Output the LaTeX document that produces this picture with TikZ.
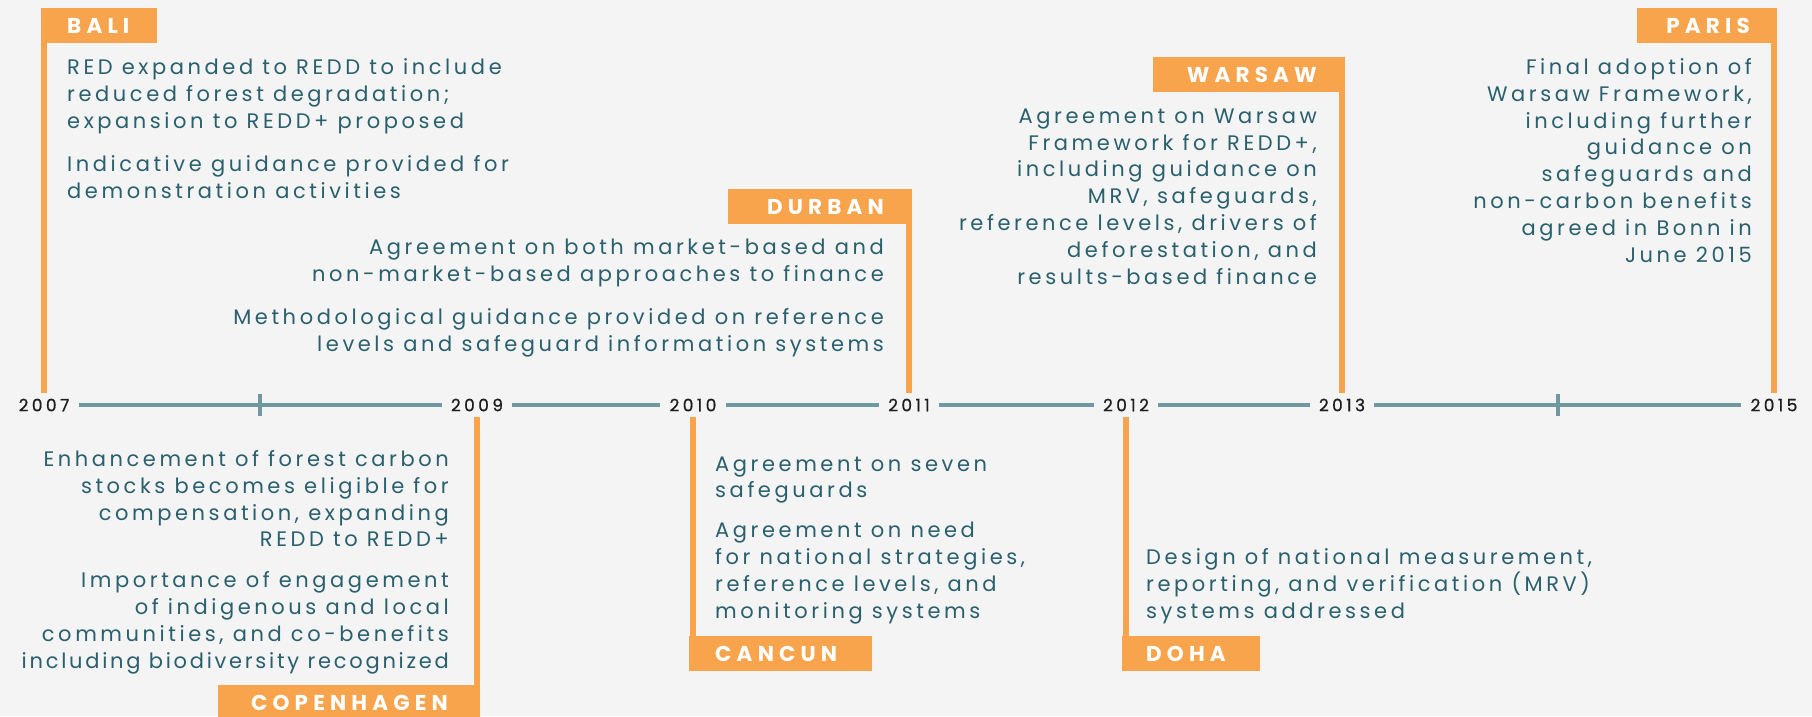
\documentclass[tikz,border=0pt]{standalone}
\usepackage{fontspec}
\newfontfamily\bodyfont[LetterSpace=17]{Poppins}
\newfontfamily\labelfont[LetterSpace=24]{Poppins}
\newfontfamily\yearfont[LetterSpace=20,FakeBold=0.8]{Poppins}
\definecolor{bgc}{RGB}{243,244,243}
\definecolor{org}{RGB}{247,164,76}
\definecolor{txtc}{RGB}{42,96,110}
\definecolor{axc}{RGB}{111,152,160}
\definecolor{yrc}{RGB}{30,30,30}
\begin{document}
\begin{tikzpicture}[x=1pt,y=-1pt,
  body/.style={font=\bodyfont\fontsize{21}{26.8}\selectfont, text=txtc, inner sep=0pt},
  yr/.style={font=\yearfont\fontsize{17}{17}\selectfont, text=yrc, inner xsep=9pt, inner ysep=6pt},
  tag/.style={fill=org, minimum height=35pt, inner sep=0pt},
  taglabel/.style={font=\labelfont\bfseries\fontsize{21.5}{21.5}\selectfont, text=white, inner sep=0pt},
  oline/.style={draw=org, line width=5.5pt},
  axisline/.style={draw=axc, line width=4.5pt},
  tick/.style={draw=axc, line width=4pt}]
\fill[bgc] (0,0) rectangle (1812,716);
\useasboundingbox (0,0) rectangle (1812,716);

% years
\node[yr] (y2007) at (44,405) {2007};
\coordinate (t2008) at (260,405);
\node[yr] (y2009) at (477,405) {2009};
\node[yr] (y2010) at (693,405) {2010};
\node[yr] (y2011) at (909,405) {2011};
\node[yr] (y2012) at (1126,405) {2012};
\node[yr] (y2013) at (1342,405) {2013};
\coordinate (t2014) at (1558,405);
\node[yr] (y2015) at (1774,405) {2015};

\draw[axisline] (y2007) -- (y2009);
\draw[axisline] (y2009) -- (y2010);
\draw[axisline] (y2010) -- (y2011);
\draw[axisline] (y2011) -- (y2012);
\draw[axisline] (y2012) -- (y2013);
\draw[axisline] (y2013) -- (y2015);
\draw[tick] ([yshift=11pt]t2008) -- ([yshift=-11pt]t2008);
\draw[tick] ([yshift=11pt]t2014) -- ([yshift=-11pt]t2014);

% tags
\node[tag, minimum width=116pt, anchor=north west] (bali) at (41,8) {};
\node[taglabel, anchor=base west] (balit) at ([xshift=26pt,yshift=-7.5pt]bali.west) {BALI};
\node[tag, minimum width=184pt, anchor=north east] (durban) at (912,189) {};
\node[taglabel, anchor=base east] (durbant) at ([xshift=-28pt,yshift=-7.5pt]durban.east) {DURBAN};
\node[tag, minimum width=192pt, anchor=north east] (warsaw) at (1345,57) {};
\node[taglabel, anchor=base east] (warsawt) at ([xshift=-28pt,yshift=-7.5pt]warsaw.east) {WARSAW};
\node[tag, minimum width=140pt, anchor=north east] (paris) at (1777,8) {};
\node[taglabel, anchor=base east] (parist) at ([xshift=-27pt,yshift=-7.5pt]paris.east) {PARIS};
\node[tag, minimum width=262pt, anchor=north east] (cop) at (480,685) {};
\node[taglabel, anchor=base east] (copt) at ([xshift=-32pt,yshift=-7.5pt]cop.east) {COPENHAGEN};
\node[tag, minimum width=183pt, anchor=north west] (cancun) at (689,636) {};
\node[taglabel, anchor=base west] (cancunt) at ([xshift=26pt,yshift=-7.5pt]cancun.west) {CANCUN};
\node[tag, minimum width=138pt, anchor=north west] (doha) at (1122,636) {};
\node[taglabel, anchor=base west] (dohat) at ([xshift=24pt,yshift=-7.5pt]doha.west) {DOHA};

% orange stems
\draw[oline] (y2007.north) -- (y2007.north |- bali.south);
\draw[oline] (y2011.north) -- (y2011.north |- durban.south);
\draw[oline] (y2013.north) -- (y2013.north |- warsaw.south);
\draw[oline] (y2015.north) -- (y2015.north |- paris.south);
\draw[oline] (y2009.south) -- (y2009.south |- cop.north);
\draw[oline] (y2010.south) -- (y2010.south |- cancun.north);
\draw[oline] (y2012.south) -- (y2012.south |- doha.north);

% texts (base = baseline of last line)
\node[body, align=left, anchor=base west] (balitext) at (67,198)
 {RED expanded to REDD to include\\reduced forest degradation;\\expansion to REDD+ proposed\\[16pt]Indicative guidance provided for\\demonstration activities};
\node[body, align=right, anchor=base east] (durbantext) at (884,351)
 {Agreement on both market-based and\\non-market-based approaches to finance\\[16pt]Methodological guidance provided on reference\\levels and safeguard information systems};
\node[body, align=right, anchor=base east] (warsawtext) at (1317,284)
 {Agreement on Warsaw\\Framework for REDD+,\\including guidance on\\MRV, safeguards,\\reference levels, drivers of\\deforestation, and\\results-based finance};
\node[body, align=right, anchor=base east] (paristext) at (1752,262)
 {Final adoption of\\Warsaw Framework,\\including further\\guidance on\\safeguards and\\non-carbon benefits\\agreed in Bonn in\\June 2015};
\node[body, align=right, anchor=base east] (coptext) at (449,668)
 {Enhancement of forest carbon\\stocks becomes eligible for\\compensation, expanding\\REDD to REDD+\\[14pt]Importance of engagement\\of indigenous and local\\communities, and co-benefits\\{\addfontfeature{LetterSpace=13}including biodiversity recognized}};
\node[body, align=left, anchor=base west] (cancuntext) at (715,618)
 {Agreement on seven\\safeguards\\[13pt]Agreement on need\\for national strategies,\\reference levels, and\\monitoring systems};
\node[body, align=left, anchor=base west] (dohatext) at (1146,618)
 {Design of national measurement,\\reporting, and verification (MRV)\\systems addressed};
\end{tikzpicture}
\end{document}
